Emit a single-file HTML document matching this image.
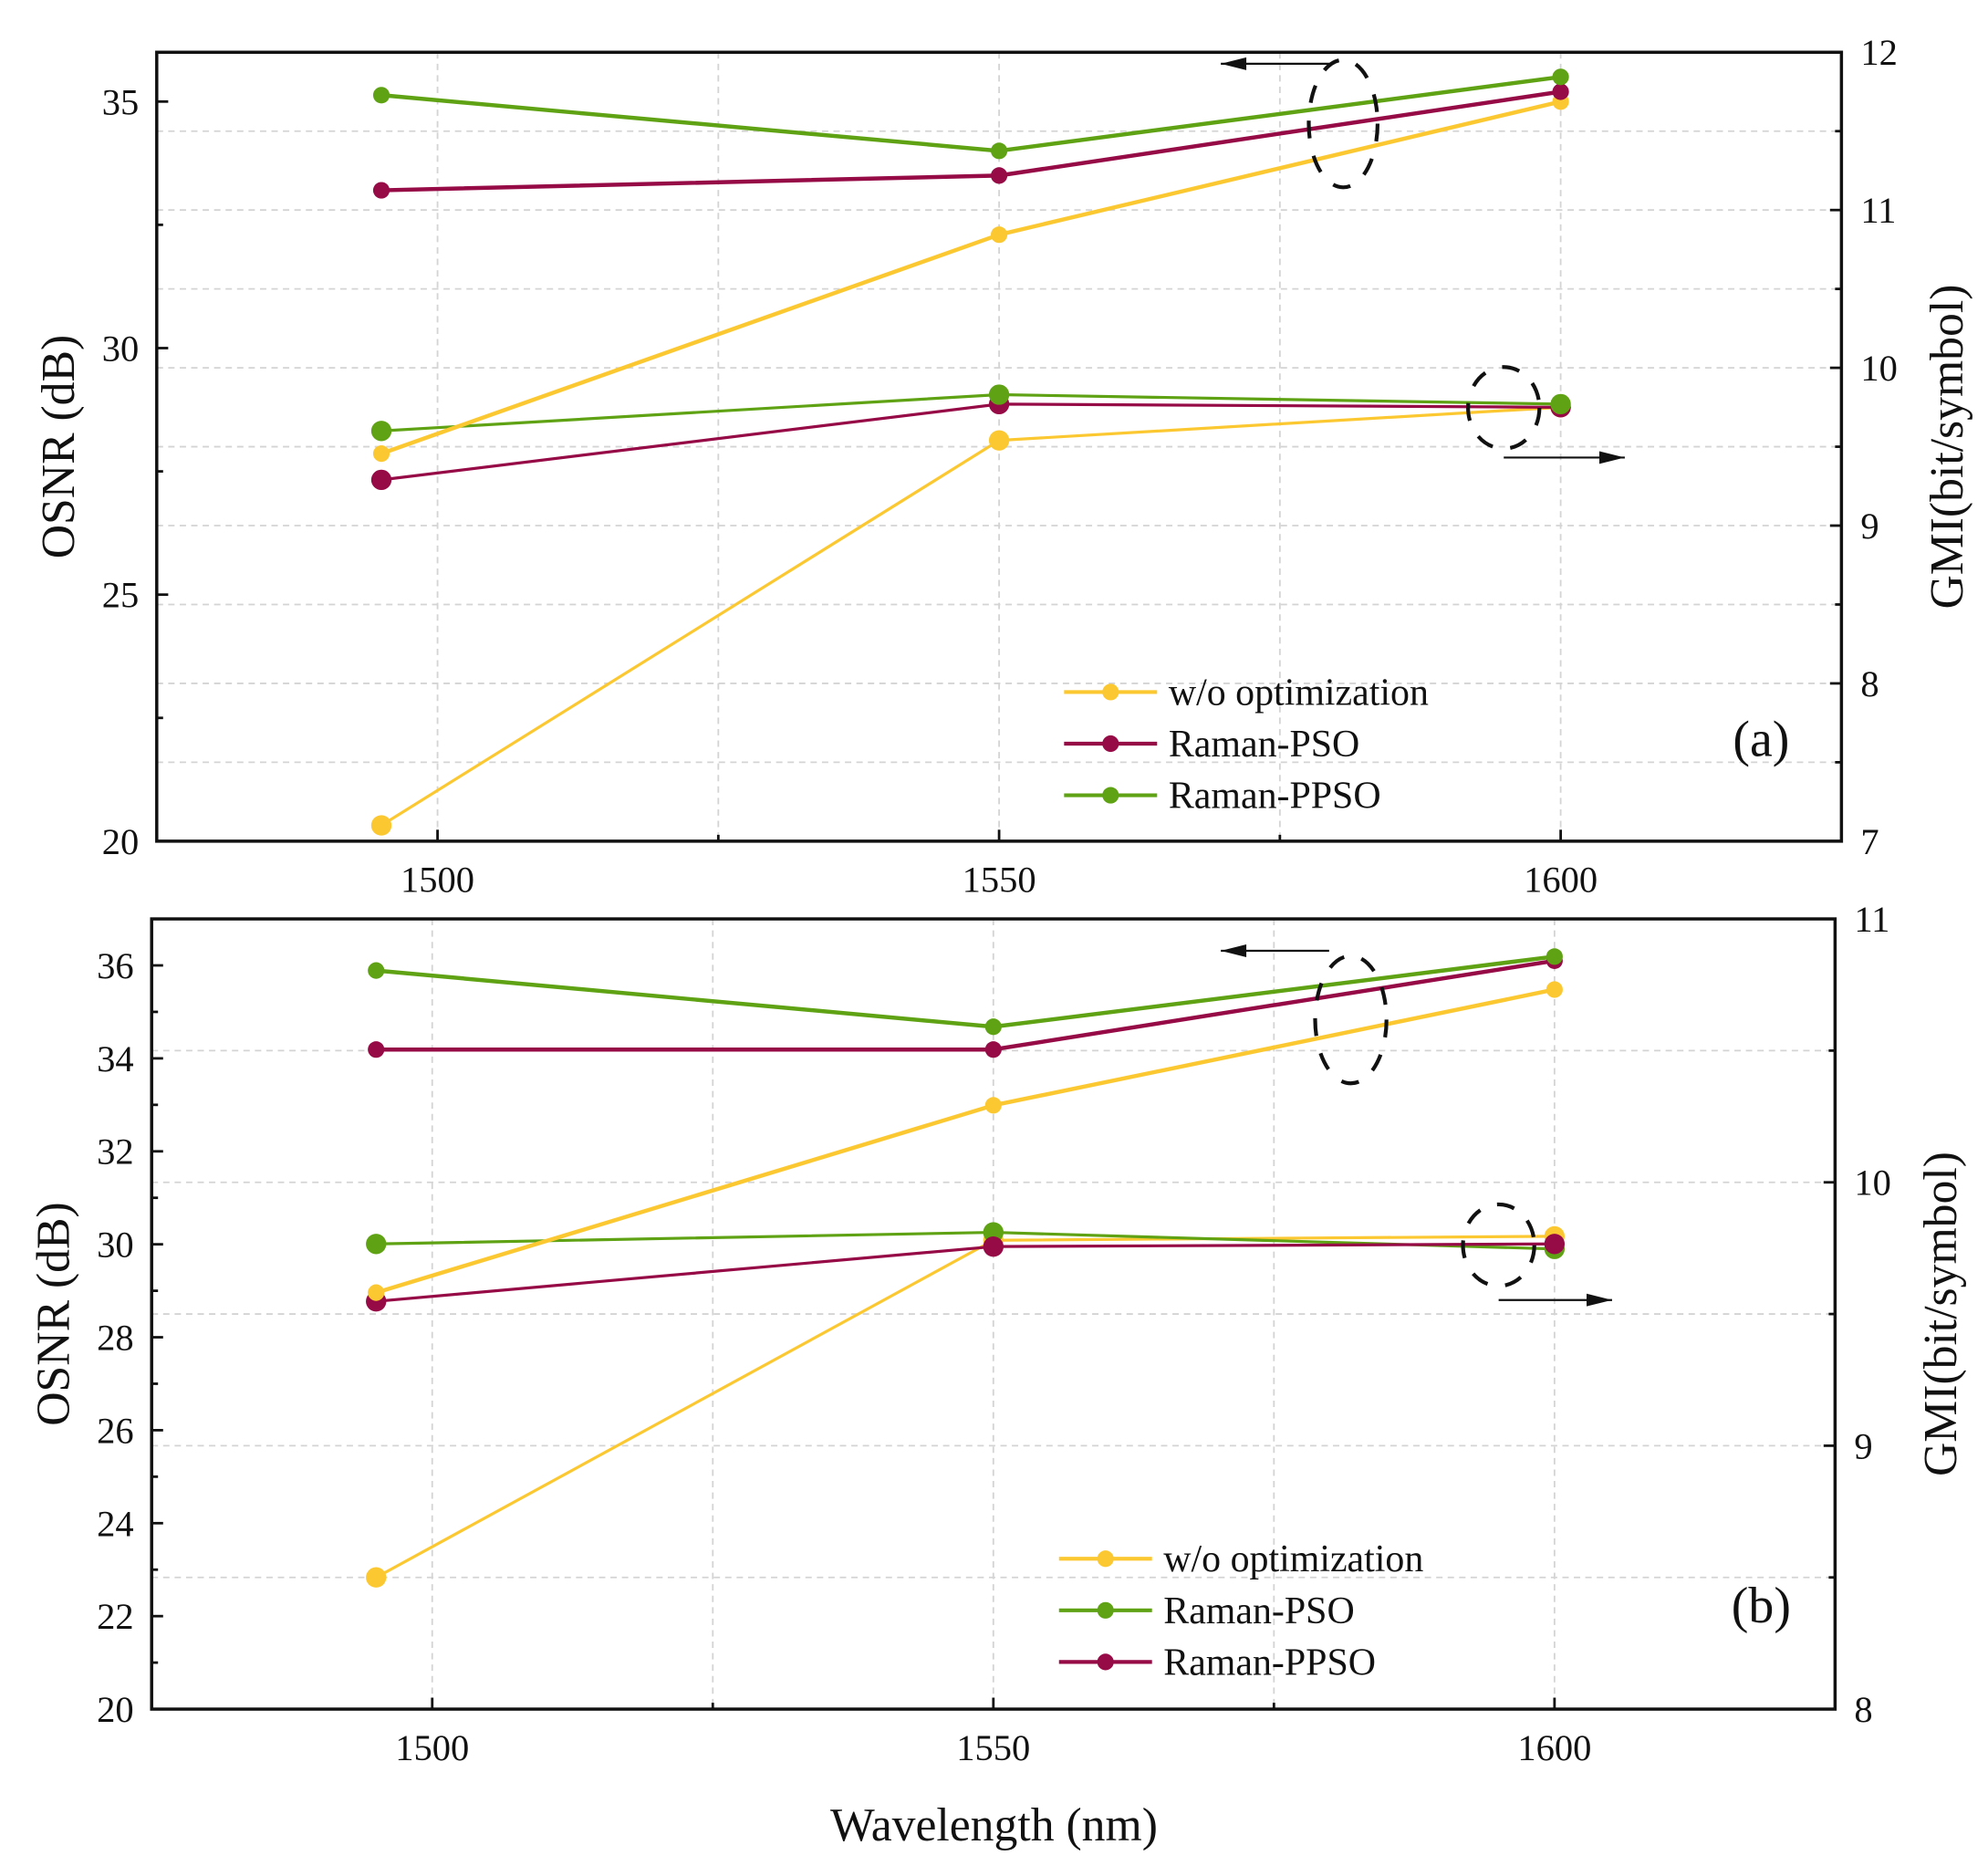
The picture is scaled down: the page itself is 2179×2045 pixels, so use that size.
<!DOCTYPE html>
<html><head><meta charset="utf-8"><style>
html,body{margin:0;padding:0;background:#fff}
svg{display:block}
text{font-family:"Liberation Serif",serif;fill:#111}
</style></head><body>
<svg id="chart" width="2179" height="2045" viewBox="0 0 1560 1464.1" preserveAspectRatio="none" xmlns="http://www.w3.org/2000/svg"></svg>
<script>
const wavelengths = [1495, 1550, 1600];
// Panel a
const aOsnrWo = [27.86, 32.3, 35.0];
const aOsnrPso = [33.2, 33.5, 35.2];
const aOsnrPpso = [35.13, 34.0, 35.5];
const aGmiWo = [7.10, 9.54, 9.75];
const aGmiPso = [9.29, 9.77, 9.75];
const aGmiPpso = [9.60, 9.83, 9.77];
// Panel b
const bOsnrWo = [28.96, 32.99, 35.48];
const bOsnrPso = [35.89, 34.68, 36.19];
const bOsnrPpso = [34.19, 34.19, 36.1];
const bGmiWo = [8.50, 9.78, 9.795];
const bGmiPso = [9.766, 9.81, 9.747];
const bGmiPpso = [9.548, 9.756, 9.766];
const xTicks = [1500, 1550, 1600];
const aLeftTicks = [20, 25, 30, 35];
const aRightTicks = [7, 8, 9, 10, 11, 12];
const bLeftTicks = [20, 22, 24, 26, 28, 30, 32, 34, 36];
const bRightTicks = [8, 9, 10, 11];

const YEL = '#fcc832', RED = '#960a46', GRN = '#5fa314';
const FONT = '"Liberation Serif", serif';
const svg = document.getElementById('chart');
const NS = 'http://www.w3.org/2000/svg';
function mk(tag, attrs, parent, txt) {
  const e = document.createElementNS(NS, tag);
  for (const k in attrs) e.setAttribute(k, attrs[k]);
  if (tag === 'text') e.setAttribute('font-family', FONT);
  if (txt !== undefined) e.textContent = txt;
  (parent || svg).appendChild(e);
  return e;
}

function panel(cfg) {
  const g = mk('g', {});
  
  
  const X = v => cfg.L + (v - 1475) / 150 * (cfg.R - cfg.L);
  const YL = v => cfg.B - (v - cfg.lmin) / (cfg.lmax - cfg.lmin) * (cfg.B - cfg.T);
  const YR = v => cfg.B - (v - cfg.rmin) / (cfg.rmax - cfg.rmin) * (cfg.B - cfg.T);
  for (let v = 1500; v <= 1600; v += 25) {
    const l = mk('line', {x1: X(v), x2: X(v), y1: cfg.T, y2: cfg.B, stroke: '#d4d4d4', 'stroke-width': 1.3, 'stroke-dasharray': '5 4'}, g);
    
    
  }
  for (let v = cfg.rmin + cfg.rgrid; v < cfg.rmax - 1e-6; v += cfg.rgrid) {
    const l = mk('line', {x1: cfg.L, x2: cfg.R, y1: YR(v), y2: YR(v), stroke: '#d4d4d4', 'stroke-width': 1.3, 'stroke-dasharray': '5 4'}, g);
    
    
  }
  const fr = mk('rect', {x: cfg.L, y: cfg.T, width: cfg.R - cfg.L, height: cfg.B - cfg.T, fill: 'none', stroke: '#111', 'stroke-width': 2.5}, g);
  
  
  xTicks.forEach(v => {
    mk('line', {x1: X(v), x2: X(v), y1: cfg.B, y2: cfg.B - 9, stroke: '#111', 'stroke-width': 2}, g);
    const t = mk('text', {x: X(v), y: cfg.B + 40, 'text-anchor': 'middle', 'font-size': 29}, g, v);
    
    
  });
  [1525, 1575].forEach(v => mk('line', {x1: X(v), x2: X(v), y1: cfg.B, y2: cfg.B - 5, stroke: '#111', 'stroke-width': 2}, g));
  cfg.lticks.forEach(v => {
    mk('line', {x1: cfg.L, x2: cfg.L + 9, y1: YL(v), y2: YL(v), stroke: '#111', 'stroke-width': 2}, g);
    const t = mk('text', {x: cfg.L - 14, y: YL(v) + 10, 'text-anchor': 'end', 'font-size': 29}, g, v);
    
    
  });
  for (let v = cfg.lmin + cfg.lminor; v < cfg.lmax; v += cfg.lminor * 2) {
    mk('line', {x1: cfg.L, x2: cfg.L + 5, y1: YL(v), y2: YL(v), stroke: '#111', 'stroke-width': 2}, g);
  }
  cfg.rticks.forEach(v => {
    mk('line', {x1: cfg.R, x2: cfg.R - 9, y1: YR(v), y2: YR(v), stroke: '#111', 'stroke-width': 2}, g);
    const t = mk('text', {x: cfg.R + 15, y: YR(v) + 10, 'text-anchor': 'start', 'font-size': 29}, g, v);
    
    
  });
  for (let v = cfg.rmin + cfg.rminor; v < cfg.rmax; v += cfg.rminor * 2) {
    mk('line', {x1: cfg.R, x2: cfg.R - 5, y1: YR(v), y2: YR(v), stroke: '#111', 'stroke-width': 2}, g);
  }
  const lt = mk('text', {transform: `translate(${cfg.L - 65},${(cfg.T + cfg.B) / 2}) rotate(-90)`, 'text-anchor': 'middle', 'font-size': 37}, g, 'OSNR (dB)');
  
  
  const rt = mk('text', {transform: `translate(${cfg.R + 95},${(cfg.T + cfg.B) / 2}) rotate(-90)`, 'text-anchor': 'middle', 'font-size': 37}, g, 'GMI(bit/symbol)');
  
  
  function series(vals, Y, color, w, r, name) {
    const pts = vals.map((v, i) => X(wavelengths[i]) + ',' + Y(v)).join(' ');
    const pl = mk('polyline', {points: pts, fill: 'none', stroke: color, 'stroke-width': w, 'stroke-linejoin': 'round'}, g);
    
    
    vals.forEach((v, i) => {
      const c = mk('circle', {cx: X(wavelengths[i]), cy: Y(v), r: r, fill: color}, g);
      
      
    });
  }
  cfg.gmi.forEach(s => series(s[0], YR, s[1], 2.3, 8, s[2]));
  cfg.osnr.forEach(s => series(s[0], YL, s[1], 3.2, 6.5, s[2]));
  cfg.ann.forEach(a => {
    const e = mk('ellipse', {cx: a[0], cy: a[1], rx: a[2], ry: a[3], fill: 'none', stroke: '#111', 'stroke-width': 3, 'stroke-dasharray': '14 14'}, g);
    
    
    const ar = mk('line', {x1: a[4], y1: a[5], x2: a[6], y2: a[5], stroke: '#111', 'stroke-width': 1.6}, g);
    
    
    const d = a[6] > a[4] ? 1 : -1;
    mk('polygon', {points: `${a[6]},${a[5]} ${a[6] - d * 20},${a[5] - 5} ${a[6] - d * 20},${a[5] + 5}`, fill: '#111'}, g);
  });
  cfg.legend.forEach((s, i) => {
    const y = cfg.legY + i * 40.5;
    const lg = mk('g', {}, g);
    
    
    mk('line', {x1: cfg.legX, x2: cfg.legX + 73, y1: y, y2: y, stroke: s[1], 'stroke-width': 3}, lg);
    mk('circle', {cx: cfg.legX + 36.5, cy: y, r: 6.5, fill: s[1]}, lg);
    mk('text', {x: cfg.legX + 82, y: y + 10, 'font-size': 30}, lg, s[0]);
  });
  const pl = mk('text', {x: 1382, y: cfg.legY + 50, 'text-anchor': 'middle', 'font-size': 40}, g, cfg.label);
  
  
}

panel({id: 'panel-a', L: 123, R: 1445, T: 41, B: 660, lmin: 20, lmax: 36, rmin: 7, rmax: 12,
  rgrid: 0.5, lticks: aLeftTicks, lminor: 2.5, rticks: aRightTicks, rminor: 0.5,
  gmi: [[aGmiWo, YEL, 'gmi-wo'], [aGmiPso, RED, 'gmi-pso'], [aGmiPpso, GRN, 'gmi-ppso']],
  osnr: [[aOsnrWo, YEL, 'osnr-wo'], [aOsnrPso, RED, 'osnr-pso'], [aOsnrPpso, GRN, 'osnr-ppso']],
  ann: [[1054, 97, 27, 50, 1045, 50, 958], [1180, 320, 28, 32, 1180, 359, 1275]],
  legX: 835, legY: 543, legend: [['w/o optimization', YEL], ['Raman-PSO', RED], ['Raman-PPSO', GRN]], label: '(a)'});

panel({id: 'panel-b', L: 119, R: 1440, T: 721, B: 1341, lmin: 20, lmax: 37, rmin: 8, rmax: 11,
  rgrid: 0.5, lticks: bLeftTicks, lminor: 1, rticks: bRightTicks, rminor: 0.5,
  gmi: [[bGmiWo, YEL, 'gmi-wo'], [bGmiPso, GRN, 'gmi-pso'], [bGmiPpso, RED, 'gmi-ppso']],
  osnr: [[bOsnrWo, YEL, 'osnr-wo'], [bOsnrPpso, RED, 'osnr-ppso'], [bOsnrPso, GRN, 'osnr-pso']],
  ann: [[1060, 800, 28, 50, 1043, 746, 958], [1176, 977, 28, 32, 1176, 1020, 1265]],
  legX: 831, legY: 1223, legend: [['w/o optimization', YEL], ['Raman-PSO', GRN], ['Raman-PPSO', RED]], label: '(b)'});

const xt = mk('text', {x: 780, y: 1444, 'text-anchor': 'middle', 'font-size': 37}, svg, 'Wavelength (nm)');


</script>
</body></html>
